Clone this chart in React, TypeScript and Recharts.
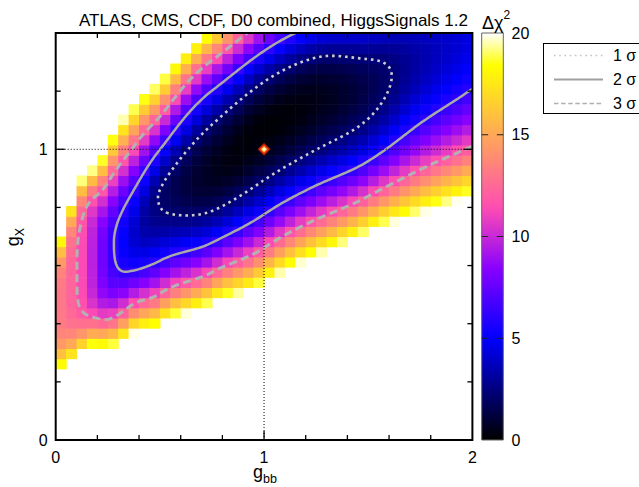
import { ScatterChart, Scatter, XAxis, YAxis, ReferenceLine, ReferenceArea } from "recharts";

// Δχ² surface, column by column (g_bb knots):
// minimum along the column, where that minimum sits in g_X, and how fast
// Δχ² rises below / above it (width and power of the rise).
const gbbKnots = [0, 0.125, 0.25, 0.375, 0.5, 0.75, 1.0, 1.25, 1.5, 1.75, 2.0];
const minChi2 = [13.5, 11.3, 7.0, 4.0, 2.2, 0.6, 0.1, 0.4, 1.5, 3.3, 4.5];
const valleyGx = [0.44, 0.6, 0.67, 0.72, 0.845, 0.922, 1.072, 1.164, 1.208, 1.31, 1.39];
const widthBelow = [0.1125, 0.181, 0.151, 0.0945, 0.122, 0.103, 0.12, 0.12, 0.115, 0.13, 0.14];
const powerBelow = [3, 4.3, 3, 2.1, 2.2, 2, 2, 2, 2, 2, 2];
const widthAbove = [0.1125, 0.181, 0.101, 0.09, 0.065, 0.128, 0.108, 0.11, 0.114, 0.12, 0.12];
const powerAbove = [3, 4.3, 2.07, 1.76, 1.6, 2.2, 2, 2, 2, 2, 2];

const contourLevels = [
  { name: "1 σ", level: 2.3 },
  { name: "2 σ", level: 6.18 },
  { name: "3 σ", level: 11.83 },
];

const xTicks = [0, 1, 2];
const yTicks = [0, 1];
const xMinorTicks = [0.2, 0.4, 0.6, 0.8, 1.2, 1.4, 1.6, 1.8];
const yMinorTicks = [0.2, 0.4, 0.6, 0.8, 1.2];
const colorTicks = [0, 5, 10, 15, 20];
const smPoint = [{ x: 1, y: 1 }];

const X_MAX = 2;
const Y_MAX = 1.4;
const CHI2_MAX = 20;
const NX = 40;
const NY = 40;

// layout
const W = 639;
const H = 487;
const plot = { left: 55.7, right: 472.4, top: 33, bottom: 440 };
const bar = { left: 481.7, right: 503.3 };
const X_AXIS_H = 30;
const Y_AXIS_W = 40;
const CB_AXIS_W = 40;
const CELL_W = (plot.right - plot.left) / NX;
const CELL_H = (plot.bottom - plot.top) / NY;
const pxX = (plot.right - plot.left) / X_MAX;
const pxY = (plot.bottom - plot.top) / Y_MAX;
const FONT = "'Liberation Sans', Arial, Helvetica, sans-serif";

function hermite(vals: number[], x: number) {
  const k = gbbKnots;
  const n = k.length;
  let i = 0;
  while (i < n - 2 && x > k[i + 1]) i++;
  const slope = (j: number) => {
    if (j === 0) return (vals[1] - vals[0]) / (k[1] - k[0]);
    if (j === n - 1) return (vals[n - 1] - vals[n - 2]) / (k[n - 1] - k[n - 2]);
    const a = (vals[j] - vals[j - 1]) / (k[j] - k[j - 1]);
    const b = (vals[j + 1] - vals[j]) / (k[j + 1] - k[j]);
    if (a * b <= 0) return 0;
    const m = (a + b) / 2;
    const lim = 3 * Math.min(Math.abs(a), Math.abs(b));
    return Math.sign(m) * Math.min(Math.abs(m), lim);
  };
  const h = k[i + 1] - k[i];
  const t = Math.max(0, Math.min(1, (x - k[i]) / h));
  const t2 = t * t;
  const t3 = t2 * t;
  return (
    (2 * t3 - 3 * t2 + 1) * vals[i] +
    (t3 - 2 * t2 + t) * h * slope(i) +
    (-2 * t3 + 3 * t2) * vals[i + 1] +
    (t3 - t2) * h * slope(i + 1)
  );
}

function chi2(gbb: number, gx: number) {
  const p = hermite(minChi2, gbb);
  const c = hermite(valleyGx, gbb);
  const below = gx < c;
  const s = hermite(below ? widthBelow : widthAbove, gbb);
  const k = hermite(below ? powerBelow : powerAbove, gbb);
  return p + Math.pow(Math.abs(gx - c) / s, k);
}

// gnuplot rgbformulae 30,31,32
const clamp = (v: number) => Math.max(0, Math.min(1, v));
function palette(t: number) {
  const r = clamp(t / 0.32 - 0.78125);
  const g = clamp(2 * t - 0.84);
  let b;
  if (t < 0.25) b = 4 * t;
  else if (t < 0.42) b = 1;
  else if (t < 0.92) b = -2 * t + 1.84;
  else b = t / 0.08 - 11.5;
  b = clamp(b);
  return `rgb(${Math.round(r * 255)},${Math.round(g * 255)},${Math.round(b * 255)})`;
}

const cells: { x: number; y: number; v: number }[] = [];
for (let i = 0; i < NX; i++) {
  for (let j = 0; j < NY; j++) {
    const x = ((i + 0.5) * X_MAX) / NX;
    const y = ((j + 0.5) * Y_MAX) / NY;
    const v = chi2(x, y);
    if (v <= CHI2_MAX) cells.push({ x, y, v });
  }
}

// marching squares, chained into polylines
function traceContour(level: number) {
  const nx = 201;
  const ny = 141;
  const dx = X_MAX / (nx - 1);
  const dy = Y_MAX / (ny - 1);
  const f: number[][] = [];
  for (let j = 0; j < ny; j++) {
    const row: number[] = [];
    for (let i = 0; i < nx; i++) row.push(chi2(i * dx, j * dy));
    f.push(row);
  }
  const pos = new Map<string, { x: number; y: number }>();
  const adj = new Map<string, string[]>();
  const cross = (key: string, xa: number, ya: number, va: number, xb: number, yb: number, vb: number) => {
    if (va < level === vb < level) return null;
    if (!pos.has(key)) {
      const t = (level - va) / (vb - va);
      pos.set(key, { x: xa + t * (xb - xa), y: ya + t * (yb - ya) });
    }
    return key;
  };
  const link = (a: string, b: string) => {
    adj.set(a, [...(adj.get(a) || []), b]);
    adj.set(b, [...(adj.get(b) || []), a]);
  };
  for (let j = 0; j < ny - 1; j++) {
    for (let i = 0; i < nx - 1; i++) {
      const x0 = i * dx, x1 = (i + 1) * dx, y0 = j * dy, y1 = (j + 1) * dy;
      const v00 = f[j][i], v10 = f[j][i + 1], v01 = f[j + 1][i], v11 = f[j + 1][i + 1];
      const e = [
        cross(`h${i},${j}`, x0, y0, v00, x1, y0, v10),
        cross(`v${i + 1},${j}`, x1, y0, v10, x1, y1, v11),
        cross(`h${i},${j + 1}`, x0, y1, v01, x1, y1, v11),
        cross(`v${i},${j}`, x0, y0, v00, x0, y1, v01),
      ].filter(Boolean) as string[];
      if (e.length === 2) link(e[0], e[1]);
      else if (e.length === 4) {
        link(e[0], e[1]);
        link(e[2], e[3]);
      }
    }
  }
  const used = new Set<string>();
  const walk = (start: string) => {
    const path = [start];
    used.add(start);
    let cur = start;
    for (;;) {
      const next = (adj.get(cur) || []).find((n) => !used.has(n));
      if (!next) break;
      used.add(next);
      path.push(next);
      cur = next;
    }
    return path;
  };
  const lines: string[][] = [];
  for (const [key, nb] of adj) if (nb.length === 1 && !used.has(key)) lines.push(walk(key));
  for (const key of adj.keys()) {
    if (!used.has(key)) {
      const p = walk(key);
      p.push(p[0]);
      lines.push(p);
    }
  }
  return lines.map((p) => p.map((k) => pos.get(k)!));
}

const contours = contourLevels.map((c) => traceContour(c.level));

const contourStyle = [
  { stroke: "#ccccd4", strokeWidth: 2.6, strokeDasharray: "2.6 3.9" },
  { stroke: "#a9a9a9", strokeWidth: 2.5 },
  { stroke: "#b2b2b2", strokeWidth: 3, strokeDasharray: "8 4.5" },
];

const legendStyle = [
  { stroke: "#c4c4c4", strokeWidth: 1.6, strokeDasharray: "1.6 3.6" },
  { stroke: "#a0a0a0", strokeWidth: 2 },
  { stroke: "#b0b0b0", strokeWidth: 1.6, strokeDasharray: "4.5 2.6" },
];

const CellShape = (props: any) => {
  const { cx, cy, payload } = props;
  return (
    <rect
      x={cx - CELL_W / 2}
      y={cy - CELL_H / 2}
      width={CELL_W + 0.6}
      height={CELL_H + 0.6}
      fill={palette(payload.v / CHI2_MAX)}
    />
  );
};

const diamond = (cx: number, cy: number, r: number) =>
  `${cx},${cy - r} ${cx + r},${cy} ${cx},${cy + r} ${cx - r},${cy}`;

const SmMarker = (props: any) => {
  const { cx, cy } = props;
  return (
    <g>
      <polygon points={diamond(cx, cy, 6.5)} fill="#a81406" />
      <polygon points={diamond(cx, cy, 5)} fill="#f0420e" />
      <polygon points={diamond(cx, cy, 3)} fill="#ffdf6a" />
      <circle cx={cx} cy={cy} r={1.2} fill="#fffbe6" />
    </g>
  );
};

const NoShape = () => <g />;

const tickStyle = { fontSize: 16, fill: "#000", fontFamily: FONT };

// one invisible anchor point so the colour-bar chart has something to lay out
const colorBarAnchor = [{ x: 0.5, y: CHI2_MAX / 2 }];

const App = () => {
  const minorX = 5 / pxY;
  const majorX = 9 / pxY;
  const minorY = 5 / pxX;
  const majorY = 9 / pxX;

  const tickSegs: { seg: { x: number; y: number }[] }[] = [];
  xMinorTicks.concat([1]).forEach((t) => {
    const len = t === 1 ? majorX : minorX;
    tickSegs.push({ seg: [{ x: t, y: 0 }, { x: t, y: len }] });
    tickSegs.push({ seg: [{ x: t, y: Y_MAX }, { x: t, y: Y_MAX - len }] });
  });
  yMinorTicks.concat([1]).forEach((t) => {
    const len = t === 1 ? majorY : minorY;
    tickSegs.push({ seg: [{ x: 0, y: t }, { x: len, y: t }] });
    tickSegs.push({ seg: [{ x: X_MAX, y: t }, { x: X_MAX - len, y: t }] });
  });

  const gradStops = Array.from({ length: 51 }, (_, i) => i / 50);

  return (
    <div style={{ position: "absolute", left: 0, top: 0, width: W, height: H, background: "#fff" }}>
      <div style={{ position: "absolute", left: 0, top: 0 }}>
        <ScatterChart
          width={W}
          height={H}
          margin={{ top: plot.top, right: W - plot.right, bottom: H - plot.bottom - X_AXIS_H, left: plot.left - Y_AXIS_W }}
        >
          <XAxis
            type="number"
            dataKey="x"
            domain={[0, X_MAX]}
            ticks={xTicks}
            interval={0}
            allowDataOverflow
            height={X_AXIS_H}
            tickLine={false}
            axisLine={false}
            tickMargin={5.5}
            tick={tickStyle}
          />
          <YAxis
            type="number"
            dataKey="y"
            domain={[0, Y_MAX]}
            ticks={yTicks}
            interval={0}
            allowDataOverflow
            width={Y_AXIS_W}
            tickLine={false}
            axisLine={false}
            tickMargin={2}
            tick={tickStyle}
          />
          <Scatter data={cells} shape={CellShape} isAnimationActive={false} />
          {contours.map((lines, li) =>
            lines.map((pts, pi) => (
              <Scatter
                key={`c${li}-${pi}`}
                data={pts}
                shape={NoShape}
                line={{ ...contourStyle[li], fill: "none" }}
                lineType="joint"
                isAnimationActive={false}
              />
            ))
          )}
          {tickSegs.map((t, i) => (
            <ReferenceLine key={`t${i}`} segment={t.seg} stroke="#000" strokeWidth={1.3} ifOverflow="visible" zIndex={1500} />
          ))}
          <ReferenceLine
            segment={[{ x: 1, y: 0 }, { x: 1, y: 1 }]}
            stroke="#000"
            strokeWidth={1}
            strokeDasharray="1 2"
            zIndex={1500}
          />
          <ReferenceLine y={1} stroke="#000" strokeWidth={1} strokeDasharray="1 2" zIndex={1500} />
          <Scatter data={smPoint} shape={SmMarker} isAnimationActive={false} zIndex={1600} />
          <ReferenceArea
            x1={0}
            x2={X_MAX}
            y1={0}
            y2={Y_MAX}
            fill="none"
            stroke="#000"
            strokeWidth={2}
            ifOverflow="visible"
            zIndex={1700}
          />
        </ScatterChart>
      </div>

      <div style={{ position: "absolute", left: 0, top: 0 }}>
        <ScatterChart
          width={W}
          height={H}
          margin={{ top: plot.top, right: W - bar.right - CB_AXIS_W, bottom: H - plot.bottom, left: bar.left }}
        >
          <defs>
            <linearGradient id="cbGrad" x1="0" y1="1" x2="0" y2="0">
              {gradStops.map((s) => (
                <stop key={s} offset={s} stopColor={palette(s)} />
              ))}
            </linearGradient>
          </defs>
          <XAxis type="number" dataKey="x" domain={[0, 1]} hide />
          <YAxis
            type="number"
            dataKey="y"
            orientation="right"
            domain={[0, CHI2_MAX]}
            ticks={colorTicks}
            interval={0}
            width={CB_AXIS_W}
            tickLine={false}
            axisLine={false}
            tickMargin={2.2}
            tick={tickStyle}
          />
          <Scatter data={colorBarAnchor} shape={NoShape} isAnimationActive={false} />
          <ReferenceArea
            x1={0}
            x2={1}
            y1={0}
            y2={CHI2_MAX}
            fill="url(#cbGrad)"
            fillOpacity={1}
            stroke="#666"
            strokeWidth={1}
            ifOverflow="visible"
          />
          {colorTicks.slice(1, -1).map((t) => (
            <ReferenceLine key={`l${t}`} segment={[{ x: 0, y: t }, { x: 0.3, y: t }]} stroke="#222" strokeWidth={1} />
          ))}
          {colorTicks.slice(1, -1).map((t) => (
            <ReferenceLine key={`r${t}`} segment={[{ x: 0.7, y: t }, { x: 1, y: t }]} stroke="#222" strokeWidth={1} />
          ))}
        </ScatterChart>
      </div>

      <svg
        width={W}
        height={H}
        style={{ position: "absolute", left: 0, top: 0, pointerEvents: "none" }}
        fontFamily={FONT}
      >
        <text x={273.5} y={26} textAnchor="middle" fontSize={17} fill="#000">
          ATLAS, CMS, CDF, D0 combined, HiggsSignals 1.2
        </text>
        <text x={482} y={29} fontSize={18} fill="#000">
          Δχ
          <tspan dy={-10} fontSize={12}>
            2
          </tspan>
        </text>
        <text x={265} y={478} textAnchor="middle" fontSize={18} fill="#000">
          g
          <tspan dy={5} fontSize={12.5}>
            bb
          </tspan>
        </text>
        <text transform="translate(19,237) rotate(-90)" textAnchor="middle" fontSize={18} fill="#000">
          g
          <tspan dy={5} fontSize={12.5}>
            X
          </tspan>
        </text>
        <rect x={543.5} y={43.5} width={110} height={70} fill="#fff" stroke="#000" strokeWidth={1} />
        {contourLevels.map((c, i) => (
          <g key={c.name}>
            <line x1={554} x2={603} y1={55.5 + i * 24} y2={55.5 + i * 24} {...legendStyle[i]} />
            <text x={613} y={61 + i * 24} fontSize={16} fill="#000">
              {c.name}
            </text>
          </g>
        ))}
      </svg>
    </div>
  );
};

export default App;
